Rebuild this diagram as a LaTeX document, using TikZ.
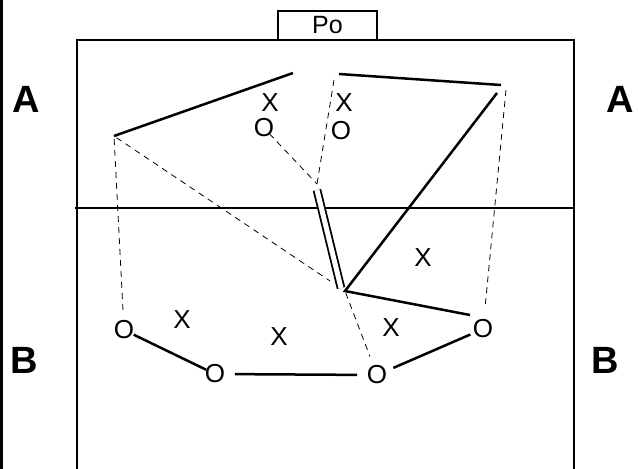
\documentclass[tikz,border=0pt]{standalone}
\usepackage{fontspec}
\setmainfont{Liberation Sans}
\usetikzlibrary{positioning}

\begin{document}
\begin{tikzpicture}[
  x=1pt, y=-1pt,
  side/.style={font=\fontsize{38}{42}\selectfont\bfseries},
  player/.style={circle, inner sep=0pt, font=\fontsize{26}{30}\selectfont},
  cross/.style={inner sep=1pt, font=\fontsize{26}{30}\selectfont},
  move/.style={line width=2.5pt},
  swap/.style={dashed, dash pattern=on 6pt off 5pt, line width=0.8pt},
]
\useasboundingbox (0,0) rectangle (638,469);
% --- court ---
\draw[line width=3pt] (1.5,0) -- (1.5,469);
\draw[line width=2pt] (77,469) -- (77,40) -- (574,40) -- (574,469);
\draw[line width=2.2pt] (75,208) -- (574,208);
\node[draw, line width=2pt, fill=white, minimum width=99, minimum height=29,
      inner sep=0pt, font=\fontsize{25}{28}\selectfont] (po) at (327.5,25.5) {Po};
% --- sides ---
\node[side] (al) at (26,99) {A};
\node[side] (ar) at (620,99) {A};
\node[side] (bl) at (24,360) {B};
\node[side] (br) at (605,360) {B};
% --- team A ---
\node[player] (a1) at (264,128) {O};
\node[player] (a2) at (341,131) {O};
\node[cross] (xa1) at (270,103) {X};
\node[cross] (xa2) at (344,103) {X};
\coordinate (p1) at (114,136);
\coordinate (p2) at (293,73);
\coordinate (p3) at (339,74);
\coordinate (p4) at (501,85);
\coordinate (p5) at (497,93);
\coordinate (p6) at (506,90);
\coordinate (p7) at (334,80);
\coordinate (dj) at (317,184);
\coordinate (dt) at (317,190);
\coordinate (db) at (341,288);
\coordinate (v) at (345,291);
\coordinate (q) at (470,315);
% --- team B ---
\node[player] (b1) at (124,330) {O};
\node[player] (b2) at (215,374) {O};
\node[player] (b3) at (377,375) {O};
\node[player] (b4) at (483,329) {O};
\node[cross] (x1) at (182,320) {X};
\node[cross] (x2) at (279,337) {X};
\node[cross] (x3) at (391,328) {X};
\node[cross] (x4) at (423,258) {X};
% --- solid moves ---
\draw[move] (p1) -- (p2);
\draw[move] (p3) -- (p4);
\draw[move] (p5) -- (v) -- (q);
\draw[line width=1.8pt, double, double distance=5pt] (dt) -- (db);
\draw[move, shorten <=-3pt, shorten >=-4pt] (b1) -- (b2);
\draw[move, shorten <=6pt, shorten >=6pt] (b2) -- (b3);
\draw[move, shorten <=4pt] (b3) -- (b4);
% --- dashed ---
\draw[swap, shorten <=3pt, shorten >=5pt] (p1) -- (b1);
\draw[swap, shorten <=3pt, shorten >=18pt] (p1) -- (v);
\draw[swap, shorten <=-6pt] (a1) -- (dj);
\draw[swap] (p7) -- (dj);
\draw[swap, shorten >=8pt] (p6) -- (b4);
\draw[swap, shorten <=2pt, shorten >=6pt] (v) -- (b3);
\end{tikzpicture}
\end{document}
